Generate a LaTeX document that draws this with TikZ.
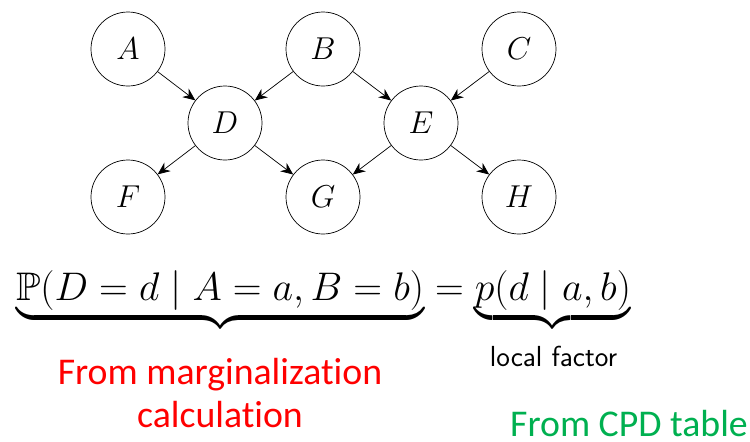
\RequirePackage{fix-cm}
\documentclass[tikz,border=0pt]{standalone}
\usepackage{amsmath,amssymb}
\usepackage{fontspec}
\newfontfamily\calfont[Ligatures=NoCommon]{Carlito}
\usetikzlibrary{arrows.meta}
\definecolor{margred}{RGB}{255,0,0}
\definecolor{cpdgreen}{RGB}{0,176,80}
\tikzset{
    var/.style={draw, circle, minimum size=1.48cm, inner sep=0pt, font=\fontsize{18}{21}\selectfont},
    edge/.style={-{Stealth[length=7pt,width=6pt]}},
    note/.style={font=\calfont\fontsize{21.5}{25}\selectfont}
}
\begin{document}
\begin{tikzpicture}
    \useasboundingbox (0,0) rectangle (15,-8.82);
    % Knoten
    \node[var] (A) at (2.56,-0.98) {$A$};
    \node[var] (B) at (6.46,-0.98) {$B$};
    \node[var] (C) at (10.38,-0.98) {$C$};
    \node[var] (D) at (4.5,-2.46) {$D$};
    \node[var] (E) at (8.42,-2.46) {$E$};
    \node[var] (F) at (2.56,-3.94) {$F$};
    \node[var] (G) at (6.46,-3.94) {$G$};
    \node[var] (H) at (10.38,-3.94) {$H$};

    % Kanten
    \draw[edge] (A) -- (D);
    \draw[edge] (B) -- (D);
    \draw[edge] (B) -- (E);
    \draw[edge] (C) -- (E);
    \draw[edge] (D) -- (F);
    \draw[edge] (D) -- (G);
    \draw[edge] (E) -- (G);
    \draw[edge] (E) -- (H);

    % Formel
    \node[anchor=base, font=\fontsize{22.7}{27}\selectfont] (formula) at (6.47,-6.0)
        {$\underbrace{\mathbb{P}(D=d \mid A=a, B=b)}_{} = \underbrace{p(d \mid a,b)}_{}$};
    \node[font=\sffamily\fontsize{16.5}{19}\selectfont] (local) at (11.07,-7.12) {local factor};

    % Erklaerungen
    \node[note, align=center, text=margred] (marg) at (4.4,-7.86)
        {From marginalization\\calculation};
    \node[note, text=cpdgreen] (cpd) at (12.58,-8.48) {From CPD table};
\end{tikzpicture}
\end{document}
